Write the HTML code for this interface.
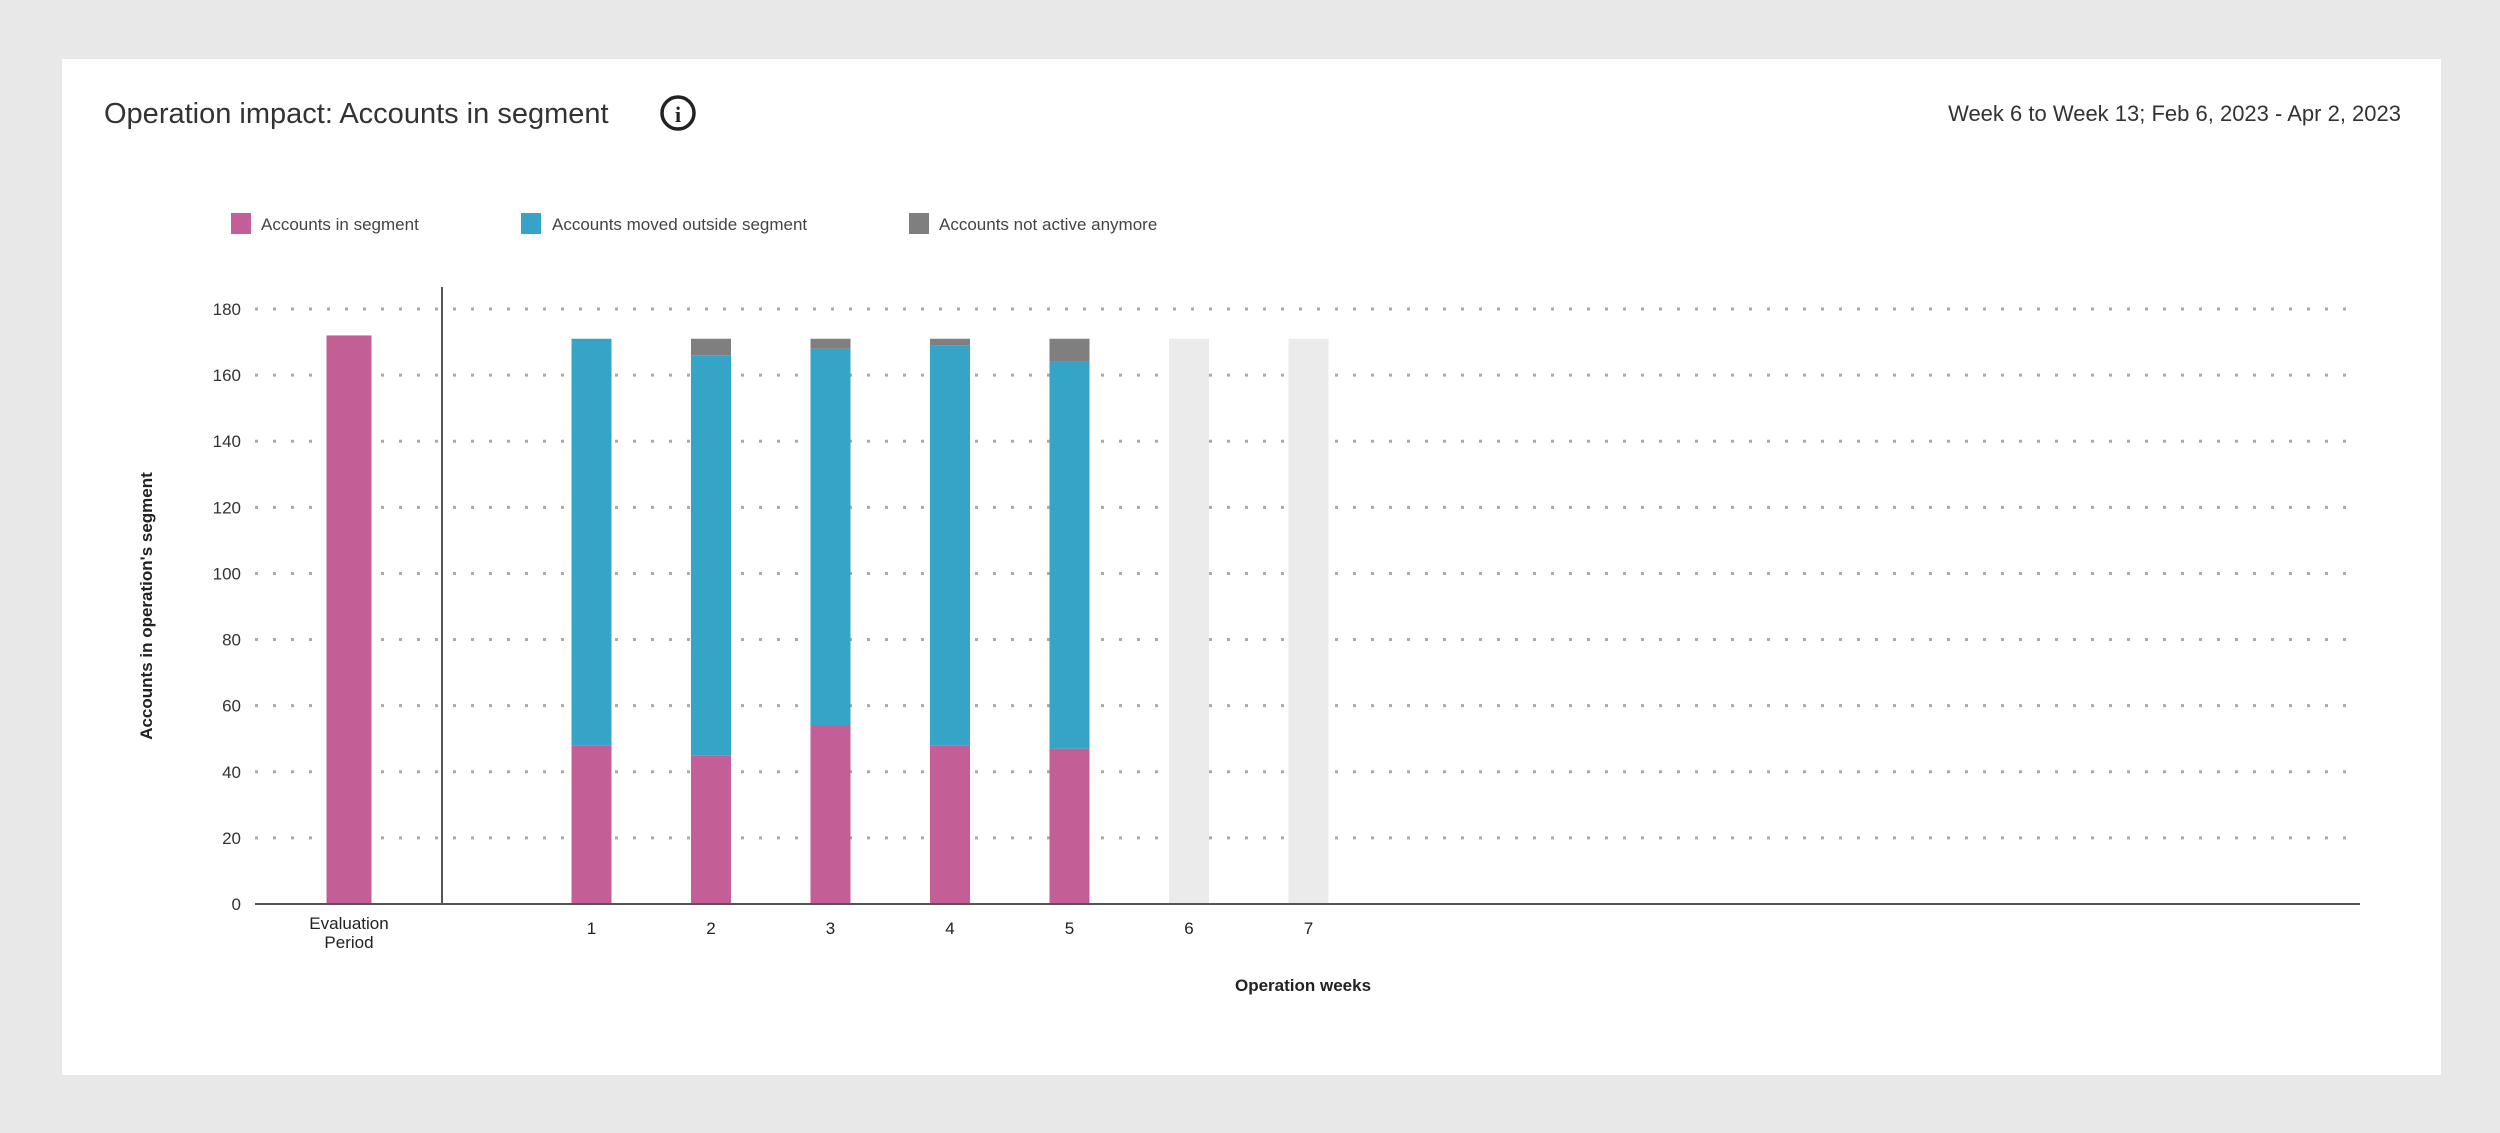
<!DOCTYPE html>
<html><head><meta charset="utf-8"><style>
html,body{margin:0;padding:0;background:#e8e8e8;width:2500px;height:1133px;overflow:hidden;font-family:"Liberation Sans",sans-serif;}
#card{position:absolute;left:62px;top:59px;width:2379px;height:1016px;background:#fff;}
</style></head><body>
<div id="card"></div>
<svg id="chart" width="2500" height="1133" style="position:absolute;left:0;top:0">
<text x="104" y="123" font-size="29" fill="#333">Operation impact: Accounts in segment</text>
<g><circle cx="678" cy="113" r="16" fill="none" stroke="#222" stroke-width="3.5"/><text x="678" y="122" font-size="22" font-weight="bold" text-anchor="middle" fill="#222" font-family="Liberation Serif,serif">i</text></g>
<text x="2401" y="121" font-size="22" fill="#333" text-anchor="end">Week 6 to Week 13; Feb 6, 2023 - Apr 2, 2023</text>
<g>
<rect x="231" y="213" width="20" height="21" fill="#c45e96"/><text x="261" y="230" font-size="17" fill="#444">Accounts in segment</text>
<rect x="521" y="213" width="20" height="21" fill="#36a4c7"/><text x="552" y="230" font-size="17" fill="#444">Accounts moved outside segment</text>
<rect x="909" y="213" width="20" height="21" fill="#7f7f7f"/><text x="939" y="230" font-size="17" fill="#444">Accounts not active anymore</text>
</g>
<g id="grid"></g><g id="bars"></g><g id="axes"></g>
<text transform="translate(152,606) rotate(-90)" font-size="17" font-weight="bold" fill="#222" text-anchor="middle">Accounts in operation's segment</text>
<text x="1303" y="991" font-size="17" font-weight="bold" fill="#222" text-anchor="middle">Operation weeks</text>
</svg>
<script>
const categories=["Evaluation Period","1","2","3","4","5","6","7"];
const inSegment=[172,48,45,54,48,47,0,0];
const movedOutside=[0,123,121,114,121,117,0,0];
const notActive=[0,0,5,3,2,7,0,0];
const placeholder=[0,0,0,0,0,0,171,171];
const yTicks=[0,20,40,60,80,100,120,140,160,180];
const NS="http://www.w3.org/2000/svg";
const y0=904,y180=309,xL=255,xR=2360;
function yScale(v){return y0-(y0-y180)*v/180;}
const centers=[349,591.5,711,830.7,950,1070,1189,1309];
function xScale(i){return centers[0]+(i===0?0:(centers[1]-centers[0])+(i-1)*(centers[2]-centers[1]));}
function mk(tag,attrs,parent){const e=document.createElementNS(NS,tag);for(const k in attrs)e.setAttribute(k,attrs[k]);parent.appendChild(e);return e;}
const grid=document.getElementById('grid'),bars=document.getElementById('bars'),axes=document.getElementById('axes');
yTicks.forEach(t=>{
  const y=yScale(t);
  if(t>0){const l=mk('line',{x1:xL,x2:xR,y1:y,y2:y,stroke:'#aaa','stroke-width':3,'stroke-dasharray':'3 15'},grid);
  
  }
  const tx=mk('text',{x:241,y:y+6,'font-size':17,fill:'#333','text-anchor':'end'},axes);
  tx.textContent=t;
  
  
});
const bw=40;
categories.forEach((c,i)=>{
  const cx=xScale(i),w=i===0?45:bw;
  let base=0;
  [[placeholder,'#ebebeb','placeholder'],[inSegment,'#c45e96','in-segment'],[movedOutside,'#36a4c7','moved'],[notActive,'#7f7f7f','inactive']].forEach(([arr,col,nm])=>{
    const v=arr[i];if(!v)return;
    const st=nm==='placeholder'?0:base;
    const r=mk('rect',{x:cx-w/2,y:yScale(st+v),width:w,height:yScale(st)-yScale(st+v),fill:col},bars);
    
    
    if(nm!=='placeholder')base+=v;
  });
  if(i===0){
    const t1=mk('text',{x:cx,y:929,'font-size':17,fill:'#222','text-anchor':'middle'},axes);t1.textContent='Evaluation';
    
    
    const t2=mk('text',{x:cx,y:948,'font-size':17,fill:'#222','text-anchor':'middle'},axes);t2.textContent='Period';
    
    
  } else {
    const t=mk('text',{x:cx,y:934,'font-size':17,fill:'#222','text-anchor':'middle'},axes);t.textContent=c;
    
    
  }
});
const ax=mk('line',{x1:xL,x2:xR,y1:y0,y2:y0,stroke:'#555','stroke-width':2},axes);


const sep=mk('line',{x1:442,x2:442,y1:287,y2:y0,stroke:'#555','stroke-width':2},axes);


</script>
</body></html>
